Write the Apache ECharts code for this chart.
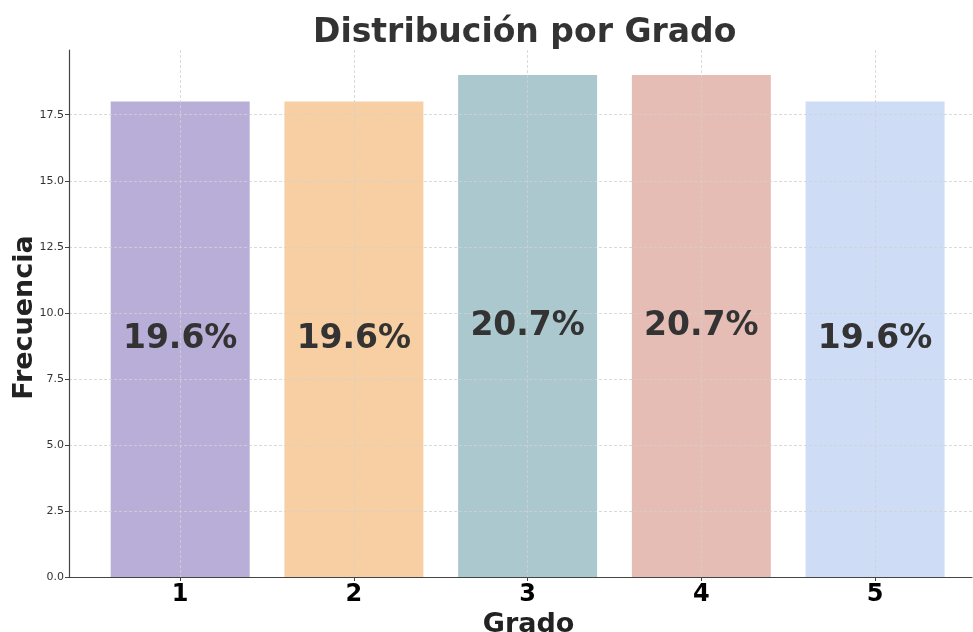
<!DOCTYPE html>
<html>
<head>
<meta charset="utf-8">
<script src="https://cdn.jsdelivr.net/npm/echarts@6/dist/echarts.min.js"></script>
<style>
  html, body { margin: 0; padding: 0; background: #fff; }
  #chart { width: 973px; height: 632px; }
</style>
</head>
<body>
<div id="chart"></div>
<script>
// datos
const grados = ['1', '2', '3', '4', '5']
const frecuencias = [18, 18, 19, 19, 18]
const porcentajes = ['19.6%', '19.6%', '20.7%', '20.7%', '19.6%']
const colores = ['#b9aed8', '#f8cfa3', '#aac8ce', '#e6bdb5', '#cedcf6']
const yTicks = [0, 2.5, 5, 7.5, 10, 12.5, 15, 17.5]

const chart = echarts.init(document.getElementById('chart'))

const font = 'DejaVu Sans'
const barData = frecuencias.map((v, i) => ({
  value: [i, v],
  itemStyle: { color: colores[i] }
}))
const labelData = frecuencias.map((v, i) => [i, v])

const gridLine = { show: true, lineStyle: { color: '#d0d0d0', type: [3, 2], width: 0.8 } }

const option = {
  animation: false,
  textStyle: { fontFamily: font },
  title: {
    text: 'Distribución por Grado',
    left: 313,
    top: 17,
    padding: 0,
    textStyle: { fontFamily: font, fontSize: 33, fontWeight: 'bold', color: '#333' }
  },
  grid: {
    left: 69,
    right: 1,
    top: 50,
    bottom: 55,
    outerBoundsMode: 'none',
    containLabel: false
  },
  xAxis: {
    type: 'value',
    min: -0.64,
    max: 4.558,
    z: 3,
    name: 'Grado',
    nameLocation: 'middle',
    nameGap: 31,
    nameTextStyle: { fontFamily: font, fontSize: 27, fontWeight: 'bold', color: '#222', padding: [0, 0, 0, 16] },
    axisLine: { onZero: false, lineStyle: { color: '#444', width: 1.2 } },
    axisTick: { show: true, length: 4, customValues: [0, 1, 2, 3, 4], lineStyle: { color: '#444' } },
    axisLabel: {
      customValues: [0, 1, 2, 3, 4],
      formatter: (v) => grados[Math.round(v)],
      margin: 6,
      fontFamily: font,
      fontSize: 24,
      fontWeight: 'bold',
      color: '#000'
    },
    splitLine: gridLine
  },
  yAxis: {
    type: 'value',
    min: 0,
    max: 19.95,
    z: 3,
    name: 'Frecuencia',
    nameLocation: 'middle',
    nameGap: 31,
    nameMoveOverlap: false,
    nameTextStyle: { fontFamily: font, fontSize: 27, fontWeight: 'bold', color: '#222', padding: [0, 8, 0, 0] },
    axisLine: { show: true, onZero: false, lineStyle: { color: '#444', width: 1.2 } },
    axisTick: { show: true, length: 4, customValues: yTicks, lineStyle: { color: '#444' } },
    axisLabel: {
      customValues: yTicks,
      formatter: (v) => v.toFixed(1),
      margin: 5,
      fontFamily: font,
      fontSize: 11,
      color: '#333'
    },
    splitLine: gridLine
  },
  series: [
    {
      type: 'bar',
      data: barData,
      barWidth: 139,
      z: 1
    },
    {
      // capa de etiquetas encima de la cuadricula
      type: 'bar',
      data: labelData,
      barWidth: 139,
      barGap: '-100%',
      z: 5,
      silent: true,
      itemStyle: { color: 'rgba(0,0,0,0)' },
      label: {
        show: true,
        position: 'inside',
        formatter: (p) => porcentajes[p.dataIndex],
        fontFamily: font,
        fontSize: 33,
        fontWeight: 'bold',
        color: '#333'
      }
    }
  ]
}

chart.setOption(option)
</script>
</body>
</html>
